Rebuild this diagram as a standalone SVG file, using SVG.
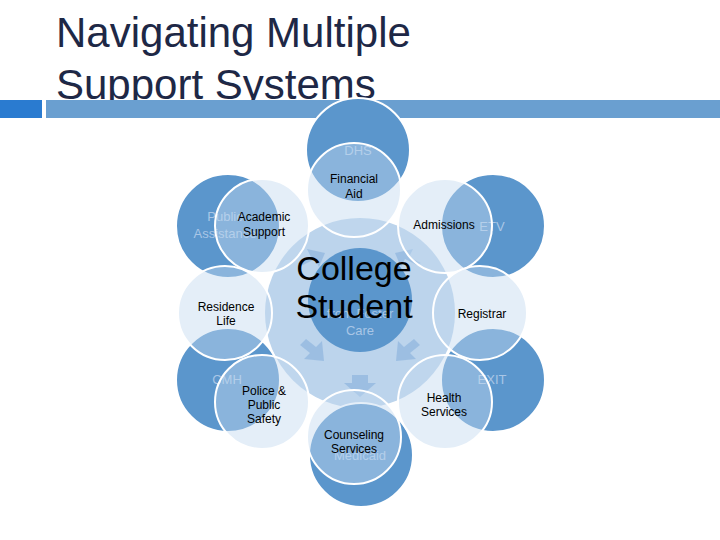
<svg xmlns="http://www.w3.org/2000/svg" width="720" height="540" viewBox="0 0 720 540">
<style>
.t{font-family:"Liberation Sans",Arial,sans-serif;}
.back{fill:#5b96cc;stroke:#fff;stroke-width:2}
.front{fill:#c3d9ef;fill-opacity:0.45;stroke:#fff;stroke-width:2}
.lbl{font-size:12px;fill:#000;text-anchor:middle}
.hid{font-size:13px;fill:#a9c6e6;text-anchor:middle}
.arr{fill:#8fb5de;opacity:0.7}
</style>
<rect width="720" height="540" fill="#fff"/>
<text class="t" x="56" y="47" font-size="42" fill="#1e2846">Navigating Multiple</text>
<text class="t" x="56" y="99" font-size="42" fill="#1e2846">Support Systems</text>
<rect x="0" y="100" width="42" height="18" fill="#2a7bd0"/>
<rect x="46" y="100" width="674" height="18" fill="#6a9fd0"/>
<g id="center-bg"><circle cx="360" cy="313" r="95" fill="#bcd4ec"/></g>
<g id="arrows">
<path class="arr" d="M352,375 h16 v8 h8 l-16,14 l-16,-14 h8 z"/>
<path class="arr" d="M303,265 l12,-6 l4,8 l6,-14 l-18,-4 l4,8 l-12,6 z"/>
<path class="arr" d="M417,265 l-12,-6 l-4,8 l-6,-14 l18,-4 l-4,8 l12,6 z"/>
<path class="arr" d="M300,345 l10,8 l-6,6 l20,2 l-2,-20 l-6,6 l-10,-8 z"/>
<path class="arr" d="M420,345 l-10,8 l6,6 l-20,2 l2,-20 l6,6 l10,-8 z"/>
</g>
<g id="back-nodes">
<g id="dhs"><circle class="back" cx="358" cy="150" r="52"/><text class="t hid" x="358" y="155">DHS</text></g>
<g id="pubassist"><circle class="back" cx="228" cy="226" r="52"/><text class="t hid" x="225" y="221">Public</text><text class="t hid" x="225" y="238">Assistance</text></g>
<g id="etv"><circle class="back" cx="493" cy="226" r="52"/><text class="t hid" x="492" y="231">ETV</text></g>
<g id="cmh"><circle class="back" cx="228" cy="380" r="52"/><text class="t hid" x="227" y="384">CMH</text></g>
<g id="exit"><circle class="back" cx="493" cy="380" r="52"/><text class="t hid" x="492" y="384">EXIT</text></g>
<g id="medicaid"><circle class="back" cx="361" cy="455" r="52"/><text class="t hid" x="360" y="460">Medicaid</text></g>
</g>
<g id="foster"><circle cx="360" cy="300" r="52" fill="#5b96cc"/><text class="t hid" x="360" y="318">from Foster</text><text class="t hid" x="360" y="335">Care</text></g>
<g id="front-nodes">
<g id="finaid"><circle class="front" cx="354" cy="190" r="47"/><text class="t lbl" x="354" y="183">Financial</text><text class="t lbl" x="354" y="198">Aid</text></g>
<g id="acad"><circle class="front" cx="262" cy="226" r="47"/><text class="t lbl" x="264" y="221">Academic</text><text class="t lbl" x="264" y="236">Support</text></g>
<g id="adm"><circle class="front" cx="445" cy="226" r="47"/><text class="t lbl" x="444" y="229">Admissions</text></g>
<g id="res"><circle class="front" cx="225" cy="313" r="47"/><text class="t lbl" x="226" y="311">Residence</text><text class="t lbl" x="226" y="325">Life</text></g>
<g id="reg"><circle class="front" cx="480" cy="313" r="47"/><text class="t lbl" x="482" y="318">Registrar</text></g>
<g id="police"><circle class="front" cx="262" cy="402" r="47"/><text class="t lbl" x="264" y="395">Police &amp;</text><text class="t lbl" x="264" y="409">Public</text><text class="t lbl" x="264" y="423">Safety</text></g>
<g id="health"><circle class="front" cx="445" cy="402" r="47"/><text class="t lbl" x="444" y="402">Health</text><text class="t lbl" x="444" y="416">Services</text></g>
<g id="couns"><circle class="front" cx="354" cy="437" r="47"/><text class="t lbl" x="354" y="439">Counseling</text><text class="t lbl" x="354" y="453">Services</text></g>
</g>
<g id="college"><text class="t" x="354" y="280" font-size="34" text-anchor="middle" fill="#000">College</text><text class="t" x="354" y="318" font-size="34" text-anchor="middle" fill="#000">Student</text></g>
</svg>
